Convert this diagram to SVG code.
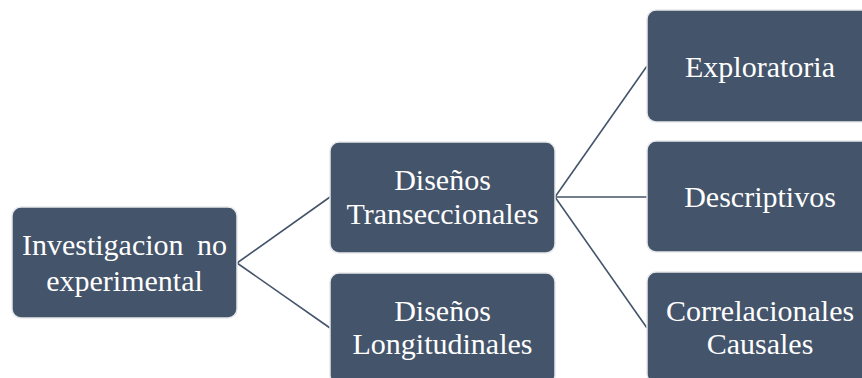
<svg xmlns="http://www.w3.org/2000/svg" width="862" height="378" viewBox="0 0 862 378">
<style>
.box{fill:#44546A;stroke:#e6e8ea;stroke-width:1.5}
.t{font-family:"Liberation Serif","Times New Roman",serif;font-size:30px;fill:#ffffff;text-anchor:middle}
.c{stroke:#44546A;stroke-width:1.6;fill:none}
</style>
<rect width="862" height="378" fill="#ffffff"/>
<g id="connectors">
<line class="c" x1="237" y1="263" x2="330" y2="197"/>
<line class="c" x1="237" y1="263" x2="330" y2="328"/>
<line class="c" x1="555" y1="197" x2="647" y2="66"/>
<line class="c" x1="555" y1="197" x2="647" y2="197"/>
<line class="c" x1="555" y1="197" x2="647" y2="328"/>
</g>
<g id="n-root">
<rect class="box" x="12" y="207" width="225" height="111" rx="9"/>
<text class="t" x="124.5" y="255" word-spacing="6">Investigacion no</text>
<text class="t" x="124.5" y="291">experimental</text>
</g>
<g id="n-trans">
<rect class="box" x="330" y="142" width="225" height="111" rx="9"/>
<text class="t" x="442.5" y="190">Diseños</text>
<text class="t" x="442.5" y="224">Transeccionales</text>
</g>
<g id="n-long">
<rect class="box" x="330" y="273" width="225" height="111" rx="9"/>
<text class="t" x="442.5" y="321">Diseños</text>
<text class="t" x="442.5" y="354">Longitudinales</text>
</g>
<g id="n-expl">
<rect class="box" x="647" y="10" width="226" height="112" rx="9"/>
<text class="t" x="760" y="77">Exploratoria</text>
</g>
<g id="n-desc">
<rect class="box" x="647" y="141" width="226" height="111" rx="9"/>
<text class="t" x="760" y="207">Descriptivos</text>
</g>
<g id="n-corr">
<rect class="box" x="647" y="272" width="226" height="111" rx="9"/>
<text class="t" x="760" y="321">Correlacionales</text>
<text class="t" x="760" y="354">Causales</text>
</g>
</svg>
